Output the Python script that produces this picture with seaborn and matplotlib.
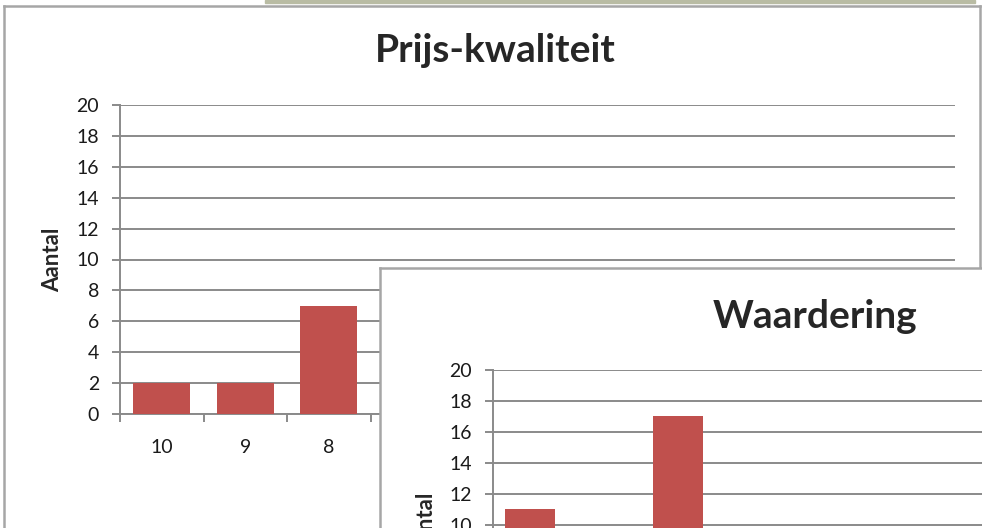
import pandas as pd
import matplotlib.pyplot as plt
import seaborn as sns
from matplotlib.patches import Rectangle

# Data (only the visible part of each chart can be read; hidden bars kept at 0)
grades = ['10', '9', '8', '7', '6', '5', '4', '3', '2', '1']
prijs_kwaliteit = [2, 2, 7, 0, 0, 0, 0, 0, 0, 0]
waardering = [11, 0, 17, 0, 0, 0, 0, 0, 0, 0]
y_ticks = list(range(0, 21, 2))

BAR = '#C0504D'
GRID = '#8A8A8A'
BORDER = '#A6A6A6'
W, H = 982, 528

sns.set_theme(style='white')
plt.rcParams['font.family'] = ['Lato', 'DejaVu Sans']

fig = plt.figure(figsize=(W / 100, H / 100), dpi=100)
fig.patch.set_facecolor('white')


def px(l, t, r, b):
    return [l / W, 1 - b / H, (r - l) / W, (b - t) / H]


def chart_box(rect, z):
    ax = fig.add_axes(rect, zorder=z)
    ax.set_facecolor('white')
    ax.set_xticks([])
    ax.set_yticks([])
    for s in ax.spines.values():
        s.set_color(BORDER)
        s.set_linewidth(1.8)
    return ax


def bar_chart(rect, values, z):
    ax = fig.add_axes(rect, zorder=z)
    ax.patch.set_alpha(0)
    df = pd.DataFrame({'Cijfer': grades, 'Aantal': values})
    sns.barplot(data=df, x='Cijfer', y='Aantal', order=grades, color=BAR,
                saturation=1, width=0.68, linewidth=0, ax=ax, zorder=3)
    ax.set_ylim(0, 20)
    ax.set_xlim(-0.5, len(grades) - 0.5)
    ax.set_yticks(y_ticks)
    ax.yaxis.grid(True, color=GRID, linewidth=1.4)
    ax.set_axisbelow(True)
    for s in ['top', 'right']:
        ax.spines[s].set_visible(False)
    for s in ['left', 'bottom']:
        ax.spines[s].set_color(GRID)
        ax.spines[s].set_linewidth(1.4)
    ax.tick_params(axis='y', length=6, width=1.4, color=GRID, pad=9,
                   labelsize=14, labelcolor='#1a1a1a', left=True)
    ax.set_xticks([i - 0.5 for i in range(len(grades) + 1)], minor=True)
    ax.tick_params(axis='x', which='minor', length=6, width=1.4, color=GRID,
                   bottom=True)
    ax.tick_params(axis='x', which='major', length=0, pad=18, labelsize=14,
                   labelcolor='#1a1a1a')
    ax.set_xlabel('')
    ax.set_ylabel('Aantal', fontsize=16, fontweight='bold')
    return ax


# top strip of the screenshot (edge of a picture behind the charts)
fig.patches.append(Rectangle((265 / W, 1 - 3 / H), 710 / W, 3 / H,
                             transform=fig.transFigure, color='#B9BCA4',
                             zorder=0))

# Chart 1: Prijs-kwaliteit
chart_box(px(4, 6, 980, 560), 1)
ax1 = bar_chart(px(120, 105, 955, 414), prijs_kwaliteit, 2)
ax1.yaxis.set_label_coords(-0.068, 0.5)
fig.text(495 / W, 1 - 51 / H, 'Prijs-kwaliteit', ha='center', va='center',
         fontsize=28, fontweight='bold', zorder=2)

# Chart 2: Waardering (overlapping, runs off the screenshot)
chart_box(px(380, 268, 1300, 600), 3)
ax2 = bar_chart(px(493, 370, 1233, 679), waardering, 4)
ax2.yaxis.set_label_coords(-0.075, 0.5)
ax2.tick_params(axis='x', labelbottom=False)  # below the visible area anyway
t2 = fig.text(815 / W, 1 - 316 / H, 'Waardering', ha='center', va='center',
              fontsize=28, fontweight='bold')
t2.set_zorder(5)

plt.savefig('out.png', dpi=100)
